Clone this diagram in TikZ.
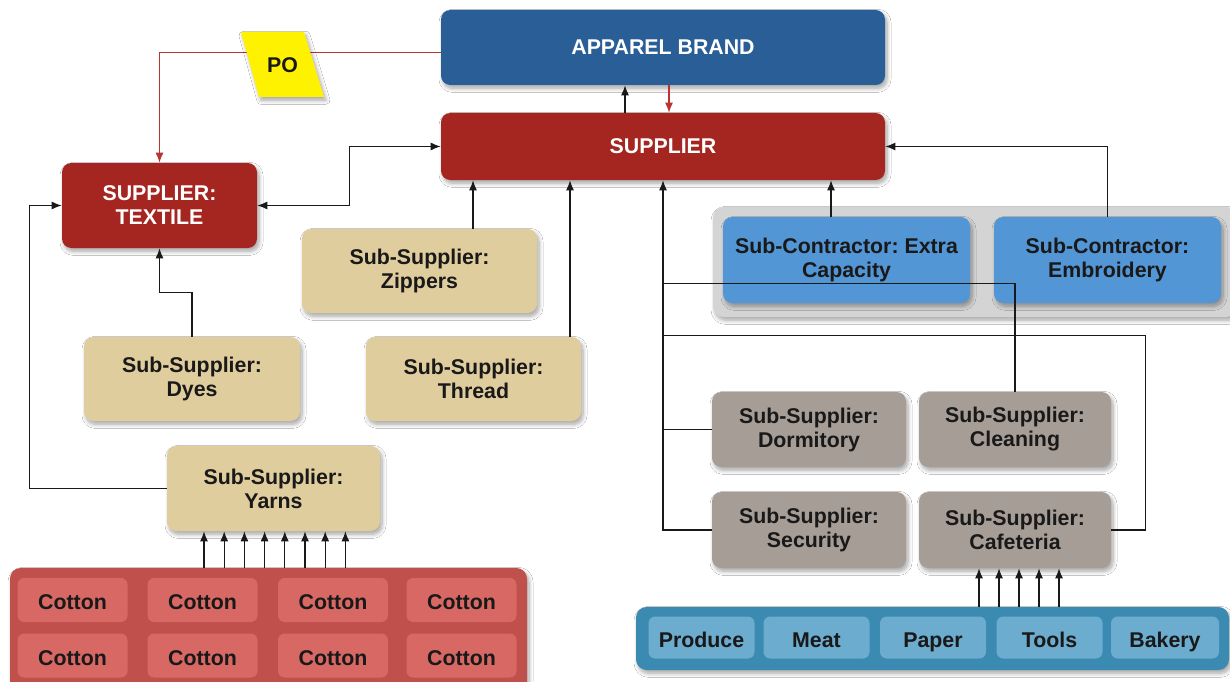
\documentclass[tikz,border=0pt]{standalone}
\usepackage{fontspec}
\setmainfont{Liberation Sans}
\usetikzlibrary{arrows.meta,shadows.blur}
\definecolor{brandblue}{RGB}{42,94,150}
\definecolor{supred}{RGB}{165,37,32}
\definecolor{tanbox}{RGB}{224,205,158}
\definecolor{taupe}{RGB}{166,157,150}
\definecolor{skyblue}{RGB}{82,150,214}
\definecolor{panelgray}{RGB}{212,212,212}
\definecolor{cottonbg}{RGB}{192,80,76}
\definecolor{cottoncell}{RGB}{216,104,100}
\definecolor{foodbg}{RGB}{58,138,178}
\definecolor{foodcell}{RGB}{108,172,206}
\definecolor{poyellow}{RGB}{255,242,0}
\definecolor{linkgray}{RGB}{25,25,25}
\definecolor{poline}{RGB}{185,52,46}
\definecolor{darktext}{RGB}{25,25,25}
\begin{document}
\frenchspacing
\begin{tikzpicture}[x=0.75pt,y=-0.75pt,
  font=\fontsize{16}{18}\selectfont\bfseries,
  shad/.style={blur shadow={shadow xshift=1.5pt,shadow yshift=-2.5pt,shadow blur steps=8,shadow blur radius=3pt,shadow opacity=35}},
  box/.style 2 args={rounded corners=7pt, minimum width=#1*0.75pt, minimum height=#2*0.75pt,
    inner sep=0pt, align=center, text=darktext, shad},
  panel/.style 2 args={rounded corners=8pt, minimum width=#1*0.75pt, minimum height=#2*0.75pt, inner sep=0pt, shad},
  cell/.style 2 args={rounded corners=5pt, minimum width=#1*0.75pt, minimum height=#2*0.75pt, inner sep=0pt,
    text height=14.5pt, text depth=0pt, text=darktext},
  tip/.tip={Latex[length=7.5pt,width=6pt]},
  link/.style={draw=linkgray, line width=1pt, -tip},
  dlink/.style={draw=linkgray, line width=1pt, tip-tip},
  plain/.style={draw=linkgray, line width=1pt},
  polink/.style={draw=poline, line width=1pt, -tip}
]
\useasboundingbox (0,0) rectangle (1230,681);
\fill[white] (0,0) rectangle (1230,681);

% panels
\begin{scope}
\clip (0,0) rectangle (1230,681);
\node[panel={517}{124}, fill=cottonbg] (cottonpanel) at (268.5,630) {};
\node[panel={524}{110}, fill=panelgray] (graypanel) at (975,262) {};
\end{scope}
\node[panel={593}{63}, fill=foodbg] (foodpanel) at (932.5,638.5) {};

% cotton cells
\foreach \cx/\nm in {72.5/a,202.5/b,333/c,461.5/d}{
  \node[cell={110}{44}, fill=cottoncell] (cot1\nm) at (\cx,600) {Cotton};
  \node[cell={110}{44}, fill=cottoncell] (cot2\nm) at (\cx,655.5) {Cotton};
}
% food cells
\node[cell={106}{42}, fill=foodcell] (produce) at (701.5,637.5) {Produce};
\node[cell={106}{42}, fill=foodcell] (meat) at (816.5,637.5) {Meat};
\node[cell={106}{42}, fill=foodcell] (paper) at (933,637.5) {Paper};
\node[cell={106}{42}, fill=foodcell] (tools) at (1049.5,637.5) {Tools};
\node[cell={108}{42}, fill=foodcell] (bakery) at (1165,637.5) {Bakery};

% main boxes
\node[box={444}{75}, fill=brandblue, text=white] (brand) at (663,47.5) {APPAREL BRAND};
\node[box={444}{67}, fill=supred, text=white] (supplier) at (663,146.5) {SUPPLIER};
\node[box={195}{85}, fill=supred, text=white] (textile) at (159.5,205.5) {SUPPLIER:\\TEXTILE};
\node[box={235}{84}, fill=tanbox] (zippers) at (419.5,271) {Sub-Supplier:\\Zippers};
\node[box={216}{84}, fill=tanbox] (dyes) at (192,379) {Sub-Supplier:\\Dyes};
\node[box={215}{84}, fill=tanbox] (thread) at (473.5,379) {Sub-Supplier:\\Thread};
\node[box={213}{85}, fill=tanbox] (yarns) at (273.5,488.5) {Sub-Supplier:\\Yarns};
\node[box={247}{86}, fill=skyblue] (extra) at (846.5,260) {Sub-Contractor: Extra\\Capacity};
\node[box={227}{86}, fill=skyblue] (embroidery) at (1107.5,260) {Sub-Contractor:\\Embroidery};
\node[box={194}{75}, fill=taupe] (dormitory) at (809,429.5) {Sub-Supplier:\\Dormitory};
\node[box={192}{75}, fill=taupe] (cleaning) at (1015,429.5) {Sub-Supplier:\\Cleaning};
\node[box={194}{76}, fill=taupe] (security) at (809,530) {Sub-Supplier:\\Security};
\node[box={192}{76}, fill=taupe] (cafeteria) at (1015,530) {Sub-Supplier:\\Cafeteria};

% PO connector and tag
\draw[polink] ([yshift=-4pt]brand.west) -| (textile.north);
\fill[poyellow, shad] (241,32) -- (304,32) -- (324,97) -- (259,97) -- cycle;
\node[text=darktext] (po) at (282.5,65) {PO};

% brand <-> supplier
\draw[link] ([xshift=-28.5pt]supplier.north) -- ([xshift=-28.5pt]brand.south);
\draw[polink] ([xshift=4.5pt]brand.south) -- ([xshift=4.5pt]supplier.north);

% left side connectors
\draw[dlink] (textile.east) -- ++(92,0) |- (supplier.west);
\path (zippers.north) ++(53.5,0) coordinate (zipN);
\draw[link] (zipN) -- (zipN |- supplier.south);
\path (thread.north) ++(96.5,0) coordinate (thrN);
\draw[link] (thrN) -- (thrN |- supplier.south);
\draw[link] (dyes.north) -- ++(0,-44) -| (textile.south);
\draw[link] (yarns.west) -- ++(-137,0) |- (textile.west);
\foreach \x in {204,224.2,244.4,264.6,284.8,305,325.2,345.4}{
  \draw[link] (cottonpanel.north -| \x,0) -- (yarns.south -| \x,0);
}

% right side connectors
\path (extra.north) ++(-15.5,0) coordinate (extN);
\draw[link] (extN) -- (extN |- supplier.south);
\draw[link] (embroidery.north) |- (supplier.east);
\draw[link] (security.west) -| (supplier.south);
\draw[plain] (dormitory.west) -- (dormitory.west -| supplier.south);
\path (supplier.south) ++(0,103) coordinate (j1);
\path (supplier.south) ++(0,155) coordinate (j2);
\draw[plain] (cleaning.north) |- (j1);
\draw[plain] (cafeteria.east) -- ++(34,0) |- (j2);
\foreach \x in {979,999,1019,1039,1059}{
  \draw[link] (foodpanel.north -| \x,0) -- (cafeteria.south -| \x,0);
}
\end{tikzpicture}
\end{document}
